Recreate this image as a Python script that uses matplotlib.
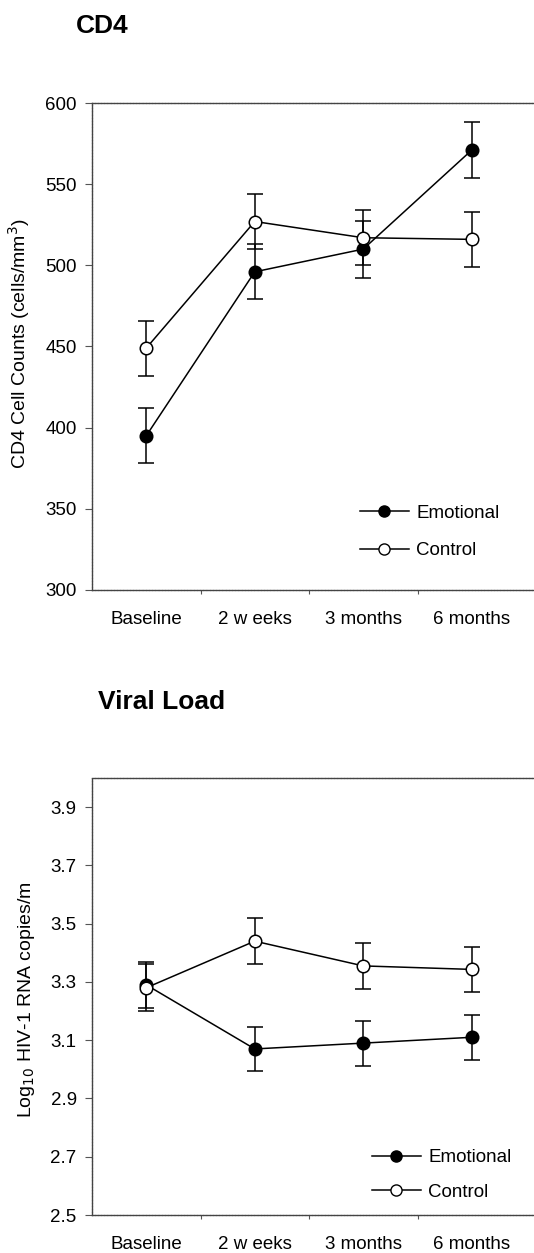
import matplotlib
matplotlib.use("Agg")
import matplotlib.pyplot as plt
from matplotlib.lines import Line2D

plt.rcParams['font.family'] = ['Liberation Sans', 'DejaVu Sans']

categories = ["Baseline", "2 w eeks", "3 months", "6 months"]

cd4_emotional = [395, 496, 510, 571]
cd4_emotional_err = [17, 17, 17.5, 17.5]
cd4_control = [449, 527, 517, 516]
cd4_control_err = [17, 17, 17, 17]

vl_emotional = [3.29, 3.07, 3.09, 3.11]
vl_emotional_err = [0.08, 0.077, 0.077, 0.077]
vl_control = [3.28, 3.44, 3.355, 3.343]
vl_control_err = [0.08, 0.078, 0.078, 0.078]

W, H = 534, 1253
fig = plt.figure(figsize=(W / 100, H / 100), dpi=100)


def px_axes(left, top, right, bottom):
    return fig.add_axes([left / W, 1 - bottom / H, (right - left) / W, (bottom - top) / H])


def style_axes(ax, ylim, yticks, yfmt):
    x = list(range(len(categories)))
    ax.set_xlim(-0.5, -0.5 + (W - 92) / 108.5)
    ax.set_ylim(*ylim)
    ax.set_xticks(x)
    ax.set_xticklabels(categories)
    ax.set_xticks([0.5, 1.5, 2.5], minor=True)
    ax.tick_params(axis='x', which='major', length=0, pad=15, labelsize=13.5)
    ax.tick_params(axis='x', which='minor', length=3, width=0.8, color='#555555', direction='out')
    ax.set_yticks(yticks)
    ax.set_yticklabels([yfmt(v) for v in yticks])
    ax.tick_params(axis='y', length=5, width=0.8, color='#555555', pad=6, labelsize=13.5)
    for side in ['top', 'bottom', 'left']:
        ax.spines[side].set_color('#444444')
        ax.spines[side].set_linewidth(1.0)
        ax.spines[side].set_linestyle((0, (1.5, 0.8)))
    ax.spines['right'].set_visible(False)


def draw_series(ax, vals, errs, filled):
    x = list(range(len(categories)))
    ax.errorbar(x, vals, yerr=errs, color='black', lw=1.1, elinewidth=1.1,
                capsize=5.5, capthick=1.1, marker='o', ms=9,
                mfc='black' if filled else 'white', mec='black', mew=1.1, zorder=3)


def add_legend(ax, xpx, ypx, spacing):
    handles = [
        Line2D([], [], color='black', lw=1.1, marker='o', ms=8, mfc='black', mec='black'),
        Line2D([], [], color='black', lw=1.1, marker='o', ms=8, mfc='white', mec='black'),
    ]
    ax.legend(handles, ["Emotional", "Control"], loc='center left',
              bbox_to_anchor=(xpx / W, 1 - ypx / H), bbox_transform=fig.transFigure,
              frameon=False, fontsize=13.5, handlelength=2.6, handletextpad=0.4,
              labelspacing=spacing, borderpad=0, borderaxespad=0)


# CD4 panel
ax1 = px_axes(92, 103, W, 590)
style_axes(ax1, (300, 600), [300, 350, 400, 450, 500, 550, 600], lambda v: f"{v:d}")
draw_series(ax1, cd4_emotional, cd4_emotional_err, True)
draw_series(ax1, cd4_control, cd4_control_err, False)
add_legend(ax1, 360, 532, 1.1)
fig.text(76 / W, 1 - 26 / H, "CD4", fontsize=19, fontweight='bold', ha='left', va='center')
fig.text(19 / W, 1 - 344 / H, "CD4 Cell Counts (cells/mm$^{3}$)", rotation=90,
         fontsize=14, ha='center', va='center')

# Viral load panel
ax2 = px_axes(92, 778, W, 1215)
style_axes(ax2, (2.5, 4.0), [2.5, 2.7, 2.9, 3.1, 3.3, 3.5, 3.7, 3.9], lambda v: f"{v:.1f}")
draw_series(ax2, vl_emotional, vl_emotional_err, True)
draw_series(ax2, vl_control, vl_control_err, False)
add_legend(ax2, 372, 1175, 0.95)
fig.text(98 / W, 1 - 702 / H, "Viral Load", fontsize=19, fontweight='bold', ha='left', va='center')
fig.text(27 / W, 1 - 1000 / H, "Log$_{10}$ HIV-1 RNA copies/m", rotation=90,
         fontsize=14, ha='center', va='center')

fig.savefig("out.png", dpi=100)
